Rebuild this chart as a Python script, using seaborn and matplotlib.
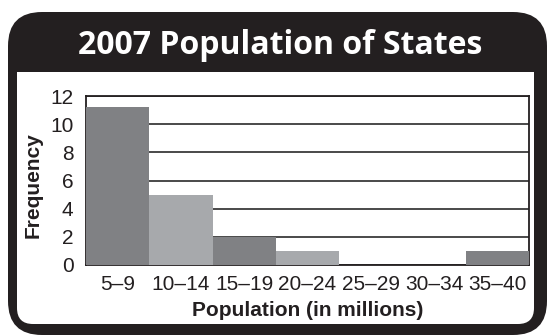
import matplotlib
matplotlib.use("Agg")
import matplotlib.pyplot as plt
import seaborn as sns
import pandas as pd
from matplotlib.patches import FancyBboxPatch, Rectangle
from matplotlib import font_manager

categories = ["5–9", "10–14", "15–19", "20–24", "25–29", "30–34", "35–40"]
frequency = [11.2, 5, 2, 1, 0, 0, 1]
yticks = [0, 2, 4, 6, 8, 10, 12]
title = "2007 Population of States"
xlabel = "Population (in millions)"
ylabel = "Frequency"

sns.set_theme(style="white")
names = {f.name for f in font_manager.fontManager.ttflist}
narrow = "Liberation Sans Narrow" if "Liberation Sans Narrow" in names else "Liberation Sans"
plt.rcParams['font.family'] = [narrow, 'DejaVu Sans']

W, H = 548, 335
fig = plt.figure(figsize=(W / 100, H / 100), dpi=100)
fig.patch.set_facecolor("white")

# frame
bg = fig.add_axes([0, 0, 1, 1])
bg.set_xlim(0, W)
bg.set_ylim(H, 0)
bg.axis("off")
outer = FancyBboxPatch((8 + 34, 12 + 34), 539 - 68, 323 - 68,
                       boxstyle="round,pad=34", fc="#231f20", ec="none")
bg.add_patch(outer)
inner = FancyBboxPatch((17 + 16, 72 + 16), 517 - 32, 252 - 32,
                       boxstyle="round,pad=16", fc="white", ec="none")
bg.add_patch(inner)
bg.add_patch(Rectangle((17, 72), 517, 30, fc="white", ec="none"))
bg.text(280, 46, title, color="white", ha="center", va="center",
        fontsize=23, fontweight="bold", family=["Open Sans", "DejaVu Sans"])

ax = fig.add_axes([86 / W, (H - 265) / H, (529 - 86) / W, (265 - 96) / H])
df = pd.DataFrame({"cat": categories, "freq": frequency})
colors = ["#808184" if i % 2 == 0 else "#a7a9ac" for i in range(len(categories))]
sns.barplot(data=df, x="cat", y="freq", hue="cat", palette=colors, width=1.0,
            legend=False, ax=ax, zorder=3, saturation=1, linewidth=0,
            edgecolor="none")
ax.set_xlim(-0.5, len(categories) - 0.5)
ax.set_ylim(0, 12)
ax.set_yticks(yticks)
ax.set_yticklabels([str(t) for t in yticks])
ax.yaxis.grid(True, color="#3a3a3a", lw=1.3, zorder=1)
ax.set_axisbelow(True)
for s in ax.spines.values():
    s.set_visible(True)
    s.set_color("#231f20")
    s.set_linewidth(1.3)
ax.tick_params(axis="both", length=0, labelsize=15, colors="#231f20")
ax.tick_params(axis="y", pad=9)
ax.tick_params(axis="x", pad=7)
ax.set_xlabel(xlabel, fontsize=15, fontweight="bold", color="#231f20", labelpad=5)
ax.set_ylabel(ylabel, fontsize=15, fontweight="bold", color="#231f20")
ax.yaxis.set_label_coords(-0.097, 0.47)

fig.savefig("out.png", dpi=100, facecolor="white")
